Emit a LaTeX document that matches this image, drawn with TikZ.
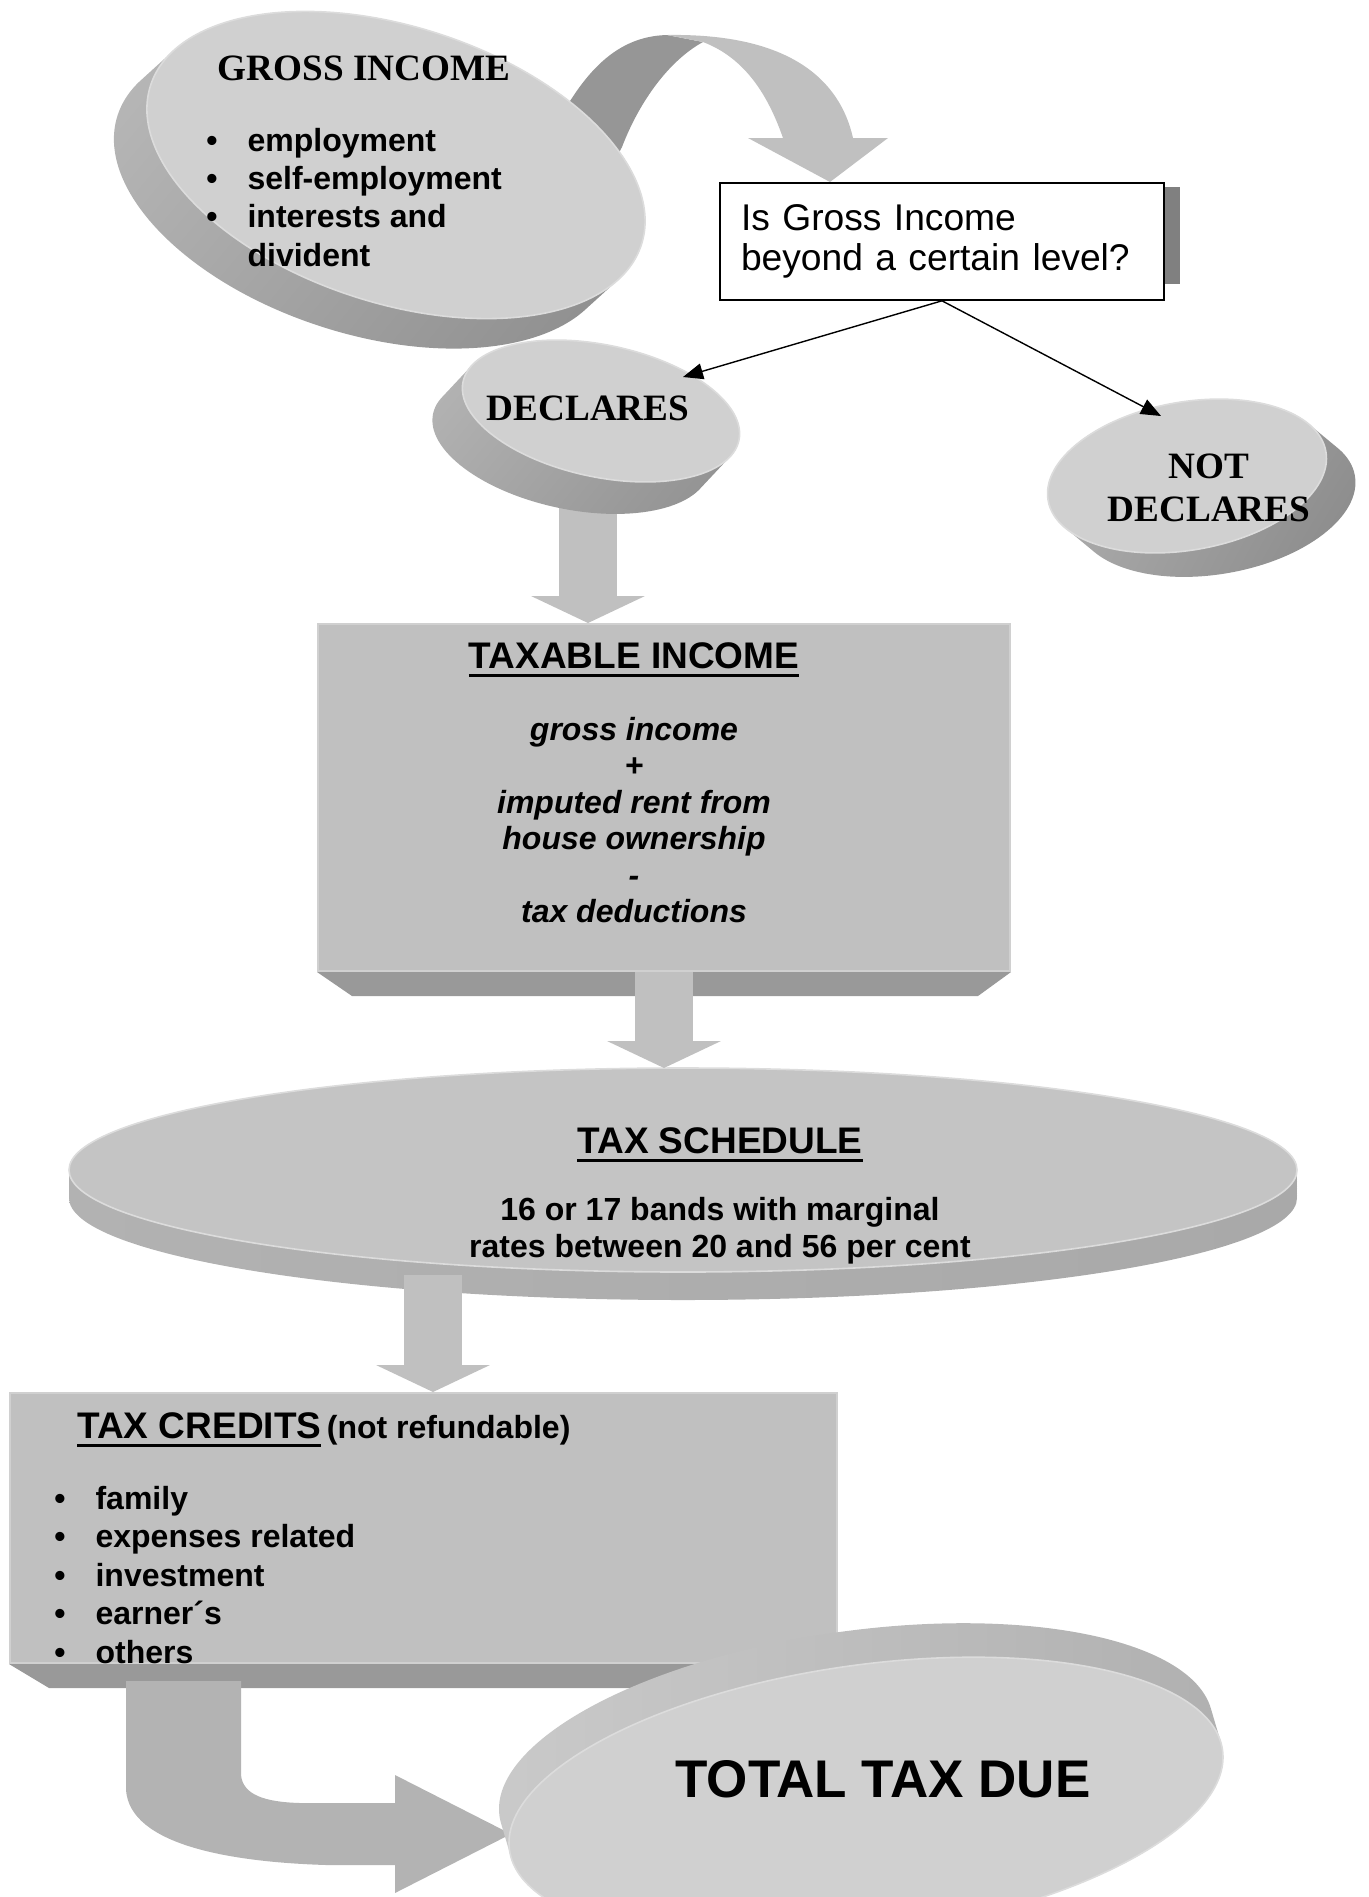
\documentclass[tikz,border=0pt]{standalone}
\usepackage{fontspec}
\setmainfont{Liberation Sans}
\newfontfamily\timesfont{Liberation Serif}
\usepackage{tikz}
\usetikzlibrary{arrows.meta, shadings}
\definecolor{facegray}{HTML}{D0D0D0}
\definecolor{boxgray}{HTML}{C0C0C0}
\definecolor{schedgray}{HTML}{C4C4C4}
\definecolor{bevelgray}{HTML}{999999}
\definecolor{ribbondark}{HTML}{969696}
\definecolor{bentgray}{HTML}{B3B3B3}
\definecolor{shadowgray}{HTML}{808080}
\definecolor{rimgray}{HTML}{DCDCDC}

\newsavebox\ulbox
\newcommand\thickul[1]{\sbox\ulbox{#1}\rlap{\rule[-4.5pt]{\wd\ulbox}{1.7pt}}\usebox\ulbox}

% 3d slab: cx, cy, a, b, rotation, dx, dy, side shading, face colour
\newcommand\slabdisk[9]{%
  \begin{scope}
    \clip \foreach \k in {0,...,20}{({#1+\k/20*(#6)},{#2+\k/20*(#7)}) circle [x radius=#3, y radius=#4, rotate=#5]};
    \shade[#8] ({#1-#3-80},{#2-#3-80}) rectangle ({#1+#3+80},{#2+#3+80});
  \end{scope}
  \fill[#9] (#1,#2) circle [x radius=#3, y radius=#4, rotate=#5];
  \draw[rimgray, line width=0.8pt] (#1,#2) circle [x radius=#3, y radius=#4, rotate=#5];
}

\begin{document}
\begin{tikzpicture}[x=0.5pt, y=-0.5pt,
    slabbox/.style={draw=facegray, line width=1pt, fill=boxgray, inner sep=0pt},
    blockarrow/.style={draw=boxgray, line width=29pt, -{Triangle[width=56.5pt, length=13.5pt]}},
    thinarrow/.style={draw=black, line width=0.7pt, -{Triangle[width=8pt, length=10pt]}},
    caption/.style={inner sep=0pt, font=\fontsize{18.5}{22}\selectfont\bfseries},
    serifcap/.style={inner sep=0pt, align=center, font=\timesfont\fontsize{18.6}{21.5}\selectfont\bfseries},
    bodytext/.style={inner sep=0pt, font=\fontsize{16}{19.2}\selectfont\bfseries}
  ]
  \useasboundingbox (0,0) rectangle (1369,1897);

  \coordinate (grossc) at (396,165);
  \coordinate (declc) at (588,408);
  \coordinate (notc) at (1209,488);
  \coordinate (schedtop) at (683,1068);
  \coordinate (schedfoot) at (433,1275);
  \coordinate (decltip) at (683,377);
  \coordinate (nottip) at (1161,416);

  % boxes
  \node[slabbox, minimum width=346pt, minimum height=173.5pt] (taxable) at (664,797.5) {};
  \fill[bevelgray] (taxable.south west) -- (taxable.south east) -- ++(-33,24) -- ++(-626,0) -- cycle;
  \node[slabbox, minimum width=413.5pt, minimum height=135pt] (credits) at (423.5,1528) {};
  \fill[bevelgray] (credits.south west) -- (credits.south east) -- ++(-32,24) -- ++(-757,0) -- cycle;

  % curved arrow out of gross income
  \fill[ribbondark] (545,140) -- (572,98) .. controls (600,55) and (630,36) .. (667,35)
    -- (703,42) .. controls (670,60) and (640,100) .. (622,147) -- (600,190) -- cycle;
  \fill[boxgray] (667,35) .. controls (790,33) and (840,80) .. (853,138) -- (888,138) -- (830,182)
    -- (748,138) -- (783,138) .. controls (768,95) and (745,58) .. (703,42) -- cycle;

  \draw[blockarrow] (declc) -- (declc |- taxable.north);

  % disks
  \slabdisk{396}{165}{258}{138}{-18}{-33}{30}{upper left=black!22, upper right=black!38, lower left=black!35, lower right=black!50}{facegray}
  \slabdisk{601}{411}{141}{66}{-12}{-30}{32}{upper left=black!22, upper right=black!38, lower left=black!35, lower right=black!50}{facegray}
  \slabdisk{1187}{476}{141}{74}{10}{29}{24}{upper left=black!25, upper right=black!40, lower left=black!32, lower right=black!52}{facegray}

  % question
  \fill[shadowgray] (1164,187) rectangle (1180,284);
  \node[draw=black, line width=0.8pt, fill=white, minimum width=222pt, minimum height=58.5pt,
    text width=201pt, align=left, inner xsep=10.5pt, inner ysep=0pt,
    font=\fontsize{18.6}{20}\selectfont] (question) at (942,241.5) {Is Gross Income\\beyond a certain level?};
  \draw[thinarrow] (question.south) -- (decltip);
  \draw[thinarrow] (question.south) -- (nottip);

  % tax schedule
  \slabdisk{683}{1170}{614}{102}{0}{0}{28}{left color=black!30, middle color=black!38, right color=black!34}{schedgray}
  \draw[blockarrow] (taxable.south) -- (taxable.south |- schedtop);
  \draw[blockarrow] (schedfoot) -- (schedfoot |- credits.north);

  % bent arrow into total tax due
  \fill[bentgray] (126,1681) -- (126,1790) .. controls (130,1845) and (230,1862) .. (326,1865)
    -- (395,1865) -- (395,1893) -- (511,1834) -- (395,1775) -- (395,1803) -- (300,1803)
    .. controls (265,1802) and (243,1795) .. (241,1775) -- (241,1681) -- cycle;
  \slabdisk{866}{1800}{360}{135}{8}{-10}{-34}{left color=black!20, middle color=black!45, right color=black!32}{facegray}

  % texts
  \node[serifcap] (grosstitle) at (364,68) {GROSS INCOME};
  \node[bodytext, anchor=base west] (grosslist) at (206,151) {\begin{tabular}[t]{@{}l@{\hspace{15pt}}l@{}}
    \textbullet & employment\\
    \textbullet & self-employment\\
    \textbullet & interests and\\
    & divident
  \end{tabular}};
  \node[serifcap] (declares) at (declc) {DECLARES};
  \node[serifcap] (notdeclares) at (notc) {NOT\\DECLARES};

  \node[caption, anchor=base] (taxtitle) at (634,668) {\thickul{TAXABLE INCOME}};
  \node[bodytext, align=center, font=\fontsize{16}{18.2}\selectfont\bfseries\itshape] (taxbody) at (634,820)
    {gross income\\+\\imputed rent from\\house ownership\\-\\tax deductions};

  \node[caption, anchor=base] (schedtitle) at (720,1153) {\thickul{TAX SCHEDULE}};
  \node[bodytext, align=center, font=\fontsize{16}{18.5}\selectfont\bfseries] (schedbody) at (720,1231)
    {16 or 17 bands with marginal\\rates between 20 and 56 per cent};

  \node[inner sep=0pt, anchor=base west] (credtitle) at (77,1438)
    {{\fontsize{18.5}{22}\selectfont\bfseries\thickul{TAX CREDITS}} {\fontsize{16}{19}\selectfont\bfseries(not refundable)}};
  \node[bodytext, anchor=base west] (credlist) at (54,1509.5) {\begin{tabular}[t]{@{}l@{\hspace{15pt}}l@{}}
    \textbullet & family\\
    \textbullet & expenses related\\
    \textbullet & investment\\
    \textbullet & earner´s\\
    \textbullet & others
  \end{tabular}};

  \node[inner sep=0pt, anchor=base, font=\fontsize{26.5}{30}\selectfont\bfseries] (total) at (883,1797) {TOTAL TAX DUE};
\end{tikzpicture}
\end{document}
